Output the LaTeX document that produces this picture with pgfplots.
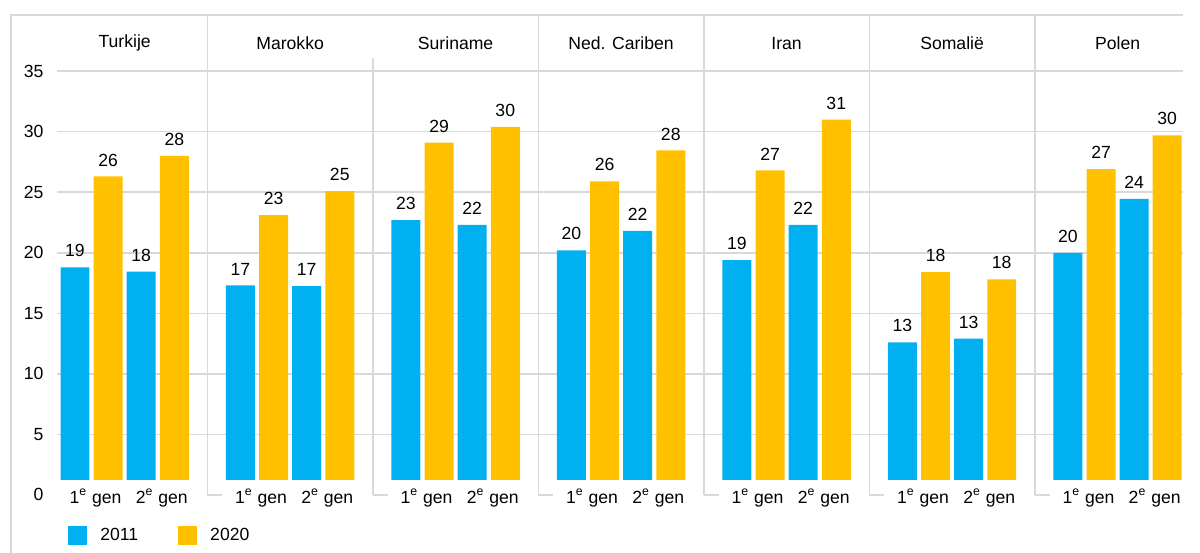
\documentclass[border=0pt]{standalone}
\usepackage{fontspec}
\setmainfont{Liberation Sans}
\usepackage{pgfplots}
\pgfplotsset{compat=1.18}
\definecolor{c11}{HTML}{00B0F0}
\definecolor{c20}{HTML}{FFC000}
\definecolor{gridc}{HTML}{D9D9D9}
\begin{document}
\fontsize{8.8}{10.5}\selectfont
\begin{tikzpicture}
\begin{axis}[
  scale only axis, width=563.05pt, height=204.4pt,
  xmin=-0.55, xmax=33.47, ymin=1.24, ymax=35,
  axis line style={draw=none},
  tick style={draw=none}, major tick length=0pt,
  ytick={5,10,15,20,25,30,35},
  ymajorgrids, grid style={gridc, line width=0.75pt},
  xtick={0.5,2.5,5.5,7.5,10.5,12.5,15.5,17.5,20.5,22.5,25.5,27.5,30.5,32.5},
  xticklabels={1\textsuperscript{e} gen,2\textsuperscript{e} gen,1\textsuperscript{e} gen,2\textsuperscript{e} gen,1\textsuperscript{e} gen,2\textsuperscript{e} gen,1\textsuperscript{e} gen,2\textsuperscript{e} gen,1\textsuperscript{e} gen,2\textsuperscript{e} gen,1\textsuperscript{e} gen,2\textsuperscript{e} gen,1\textsuperscript{e} gen,2\textsuperscript{e} gen},
  /pgf/number format/assume math mode=true,
  yticklabel style={xshift=-3.5pt},
  xticklabel style={yshift=-1.5pt, xshift=2pt},
  tick label style={font=\fontsize{8.8}{10.5}\selectfont},
  clip mode=individual,
  ybar, bar width=0.876, bar shift=0pt,
  nodes near coords, point meta=explicit symbolic,
  every node near coord/.append style={text=black, font=\fontsize{8.8}{10.5}\selectfont, yshift=2pt},
  legend columns=2,
  legend image code/.code={\fill[#1] (0pt,-4.75pt) rectangle (9.5pt,4.75pt); \path (14pt,0pt);},
  legend style={at={(axis description cs:0.00995,-0.1358)}, anchor=west, draw=none, inner sep=0pt,
    font=\fontsize{8.8}{10.5}\selectfont,
    /tikz/every even column/.append style={column sep=18pt}},
]
\addplot[fill=c11, draw=none] coordinates {
  (0,18.8) [19] (2,18.45) [18]
  (5,17.3) [17] (7,17.25) [17]
  (10,22.7) [23] (12,22.3) [22]
  (15,20.2) [20] (17,21.8) [22]
  (20,19.4) [19] (22,22.3) [22]
  (25,12.6) [13] (27,12.9) [13]
  (30,20.0) [20] (32,24.45) [24]
};
\addlegendentry{2011}
\addplot[fill=c20, draw=none] coordinates {
  (1,26.3) [26] (3,28.0) [28]
  (6,23.1) [23] (8,25.1) [25]
  (11,29.1) [29] (13,30.4) [30]
  (16,25.9) [26] (18,28.45) [28]
  (21,26.8) [27] (23,31.0) [31]
  (26,18.4) [18] (28,17.8) [18]
  (31,26.9) [27] (33,29.7) [30]
};
\addlegendentry{2020}
% frame and separators
\draw[gridc, line width=0.75pt] (axis cs:-1.93,-4.9) -- (axis cs:-1.93,39.64) -- (axis cs:33.47,39.64);
\draw[gridc, line width=0.75pt] (axis cs:4,0) -- (axis cs:4,39.64) (axis cs:4,0) -- (axis cs:4.45,0);
\draw[gridc, line width=0.75pt] (axis cs:9,0) -- (axis cs:9,36.1) (axis cs:9,0) -- (axis cs:9.45,0);
\draw[gridc, line width=0.75pt] (axis cs:14,0) -- (axis cs:14,39.64) (axis cs:14,0) -- (axis cs:14.45,0);
\draw[gridc, line width=0.75pt] (axis cs:19,0) -- (axis cs:19,39.64) (axis cs:19,0) -- (axis cs:19.45,0);
\draw[gridc, line width=0.75pt] (axis cs:24,0) -- (axis cs:24,39.64) (axis cs:24,0) -- (axis cs:24.45,0);
\draw[gridc, line width=0.75pt] (axis cs:29,0) -- (axis cs:29,39.64) (axis cs:29,0) -- (axis cs:29.45,0);
\node[anchor=east, xshift=-3.5pt] at (axis cs:-0.55,0) {0};
% headers
\node at (axis cs:1.5,37.3) {Turkije};
\node at (axis cs:6.5,37.3) {Marokko};
\node at (axis cs:11.5,37.3) {Suriname};
\node at (axis cs:16.5,37.3) {Ned. Cariben};
\node at (axis cs:21.5,37.3) {Iran};
\node at (axis cs:26.5,37.3) {Somalië};
\node at (axis cs:31.5,37.3) {Polen};
\coordinate (bbSW) at (axis cs:-2.266,-4.79);
\coordinate (bbNE) at (axis cs:33.99,40.875);
\end{axis}
\pgfresetboundingbox
\path[use as bounding box] (bbSW) rectangle (bbNE);
\end{tikzpicture}
\end{document}
